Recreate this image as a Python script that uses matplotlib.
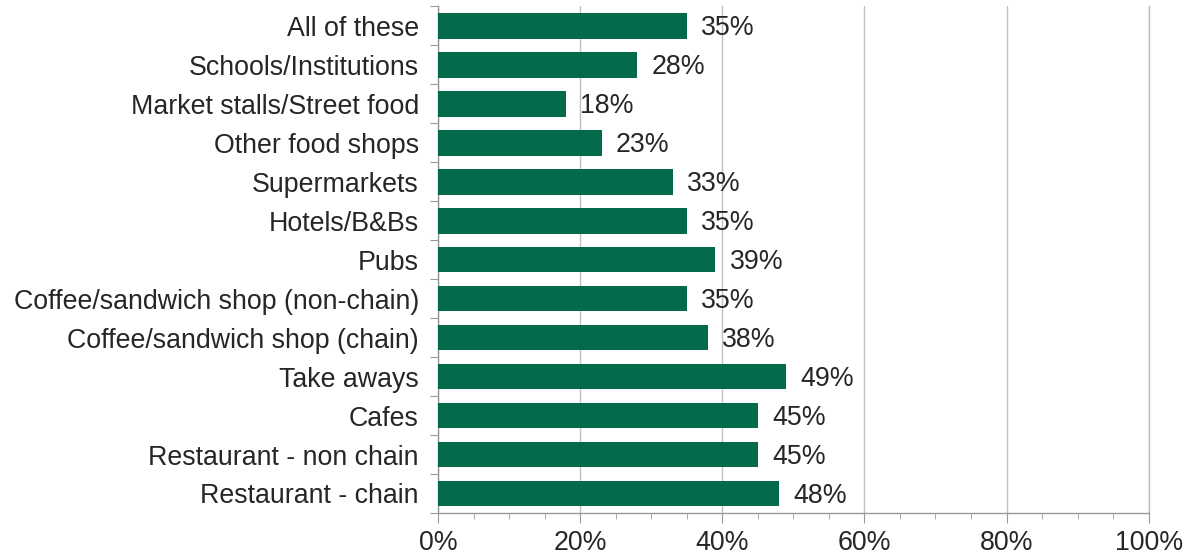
import matplotlib
matplotlib.use('Agg')
import matplotlib.pyplot as plt
from matplotlib.ticker import MultipleLocator, PercentFormatter

categories = ['All of these', 'Schools/Institutions', 'Market stalls/Street food',
              'Other food shops', 'Supermarkets', 'Hotels/B&Bs', 'Pubs',
              'Coffee/sandwich shop (non-chain)', 'Coffee/sandwich shop (chain)',
              'Take aways', 'Cafes', 'Restaurant - non chain', 'Restaurant - chain']
values = [35, 28, 18, 23, 33, 35, 39, 35, 38, 49, 45, 45, 48]

plt.rcParams['font.family'] = ['Liberation Sans', 'DejaVu Sans']
text_col = '#262626'
axis_col = '#999999'
fs = 19.3

fig = plt.figure(figsize=(11.94, 5.55), dpi=100)
ax = fig.add_axes([0.367, 0.0757, 0.595, 0.913])

n = len(categories)
y = list(range(n))
ax.barh(y, values, height=0.66, color='#036A4B', zorder=3)

for yi, v in zip(y, values):
    ax.text(v + 2.0, yi + 0.06, f'{v}%', va='center', ha='left', fontsize=fs, color=text_col)

ax.set_ylim(n - 0.5, -0.5)
ax.set_xlim(0, 100)

# category labels at bar centres, tick marks on the boundaries between bars
ax.set_yticks([i - 0.5 for i in range(n + 1)])
ax.set_yticklabels([])
ax.set_yticks(y, minor=True)
ax.set_yticklabels(categories, minor=True, fontsize=fs, color=text_col)
ax.tick_params(axis='y', which='major', length=6, color=axis_col)
ax.tick_params(axis='y', which='minor', length=0, pad=14)

ax.xaxis.set_major_locator(MultipleLocator(20))
ax.xaxis.set_minor_locator(MultipleLocator(5))
ax.xaxis.set_major_formatter(PercentFormatter(decimals=0))
ax.tick_params(axis='x', which='major', length=7, color=axis_col, labelsize=fs,
               labelcolor=text_col, pad=5)
ax.tick_params(axis='x', which='minor', length=4, color=axis_col)
ax.grid(axis='x', which='major', color='#BFBFBF', linewidth=1, zorder=0)
ax.axvline(100, color='#BFBFBF', linewidth=1, clip_on=False, zorder=0)

for s in ['top', 'right']:
    ax.spines[s].set_visible(False)
for s in ['left', 'bottom']:
    ax.spines[s].set_color(axis_col)
    ax.spines[s].set_linewidth(1)

fig.savefig('out.png', dpi=100)
